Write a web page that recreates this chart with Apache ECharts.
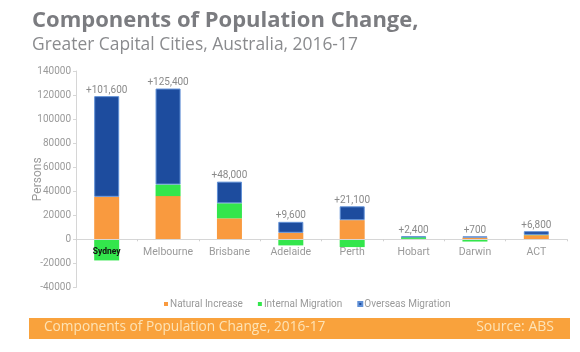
<!DOCTYPE html>
<html>
<head>
<meta charset="utf-8">
<script src="https://cdn.jsdelivr.net/npm/echarts@6/dist/echarts.min.js"></script>
<style>
html,body{margin:0;padding:0;background:#fff;}
#c{width:580px;height:352px;}
</style>
</head>
<body>
<div id="c"></div>
<script>
var cities = ['Sydney','Melbourne','Brisbane','Adelaide','Perth','Hobart','Darwin','ACT'];
var naturalIncrease = [35400, 36000, 17500, 5500, 16000, 400, 1500, 3500];
var internalMigration = [-17500, 9600, 12500, -5000, -6400, 1500, -1800, 300];
var overseasMigration = [83700, 79800, 18000, 9100, 11500, 500, 1000, 3000];
var totals = [101600, 125400, 48000, 9600, 21100, 2400, 700, 6800];
var yTicks = {min: -40000, max: 140000, interval: 20000};

var lab = "Roboto, sans-serif";
var head = "'Open Sans', Lato, sans-serif";
var chart = echarts.init(document.getElementById('c'), null, {renderer: 'canvas'});

function fmt(v){ return '+' + v.toLocaleString('en-US'); }

chart.setOption({
  animation: false,
  backgroundColor: '#ffffff',
  grid: {left: 76, right: 13, top: 71, bottom: 64.5, containLabel: false},
  legend: {
    left: 159, top: 294,
    icon: 'rect', itemWidth: 4, itemHeight: 4, itemGap: 15,
    textStyle: {color: '#9a9a9a', fontSize: 10, fontFamily: lab, padding: [0,0,0,-3]},
    data: ['Natural Increase','Internal Migration','Overseas Migration']
  },
  xAxis: {
    type: 'category',
    data: cities,
    offset: -48.2,
    z: 10,
    axisLine: {onZero: false, lineStyle: {color: '#d6d6d6', width: 1}},
    axisTick: {show: true, length: 2, lineStyle: {color: '#d0d0d0'}},
    axisLabel: {
      interval: 0,
      color: '#9a9a9a', fontSize: 10.5, fontFamily: lab, margin: 8,
      formatter: function(v){ return v === 'Sydney' ? '{s|' + v + '}' : v; },
      rich: {s: {color: '#111', fontWeight: 'bold', fontSize: 8.5, fontFamily: lab}}
    }
  },
  yAxis: {
    type: 'value',
    min: yTicks.min, max: yTicks.max, interval: yTicks.interval,
    name: 'Persons', nameLocation: 'middle', nameGap: 32, nameRotate: 90, nameMoveOverlap: false,
    nameTextStyle: {color: '#9a9a9a', fontSize: 12, fontFamily: lab},
    axisLine: {show: true, lineStyle: {color: '#d6d6d6'}},
    axisTick: {show: true, length: 3, lineStyle: {color: '#d6d6d6'}},
    splitLine: {show: false},
    axisLabel: {color: '#9a9a9a', fontSize: 10, fontFamily: lab, margin: 5,
      formatter: function(v){ return String(v); }}
  },
  series: [
    {name: 'Natural Increase', type: 'bar', stack: 's', data: naturalIncrease, barWidth: 25,
     itemStyle: {color: '#F99A3F'}},
    {name: 'Internal Migration', type: 'bar', stack: 's', data: internalMigration, barWidth: 25,
     itemStyle: {color: '#33E64C'}},
    {name: 'Overseas Migration', type: 'bar', stack: 's', data: overseasMigration, barWidth: 25,
     itemStyle: {color: '#1D4C9E', borderColor: '#5f8fd6', borderWidth: 1},
     label: {show: true, position: 'top', distance: 1, color: '#8a8a8a', fontSize: 10, fontFamily: lab,
       formatter: function(p){ return fmt(totals[p.dataIndex]); }}}
  ],
  graphic: [
    {type: 'text', left: 32, top: 10, style: {text: 'Components of Population Change,', font: 'bold 22px ' + head, fill: '#7b7c80'}},
    {type: 'text', left: 32, top: 37, style: {text: 'Greater Capital Cities, Australia, 2016-17', font: '17.4px ' + head, fill: '#8a8b8e'}},
    {type: 'rect', shape: {x: 29, y: 318, width: 541, height: 21}, style: {fill: '#F9A23C'}},
    {type: 'text', left: 44, top: 320, style: {text: 'Components of Population Change, 2016-17', font: '13.7px ' + head, fill: '#FDE3B6'}},
    {type: 'text', right: 26, top: 320, style: {text: 'Source: ABS', font: '14px ' + head, fill: '#FDE3B6'}}
  ]
});
</script>
</body>
</html>
